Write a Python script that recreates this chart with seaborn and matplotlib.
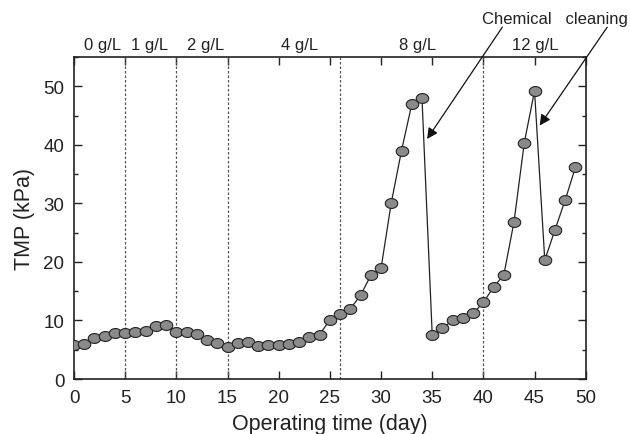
import numpy as np
import pandas as pd
import matplotlib
matplotlib.use("Agg")
import matplotlib.pyplot as plt
from matplotlib.ticker import MultipleLocator
import seaborn as sns

# TMP readings, one per day
days = list(range(50))
tmp = [5.8, 5.9, 7.0, 7.4, 7.9, 7.8, 8.0, 8.2, 9.0, 9.2,
       8.1, 8.0, 7.7, 6.6, 6.2, 5.4, 6.2, 6.3, 5.7, 5.8,
       5.8, 6.0, 6.4, 7.1, 7.6, 10.1, 11.1, 12.0, 14.3, 17.7,
       18.9, 30.1, 39.0, 46.9, 48.0, 7.6, 8.7, 10.0, 10.5, 11.2,
       13.1, 15.7, 17.8, 26.9, 40.4, 49.2, 20.3, 25.5, 30.6, 36.2]

# dosage phases: boundaries and labels
phase_bounds = [5, 10, 15, 26, 40]
phase_labels = ["0 g/L", "1 g/L", "2 g/L", "4 g/L", "8 g/L", "12 g/L"]
phase_label_x = [2.8, 7.35, 12.9, 22.0, 33.6, 45.1]

# chemical cleaning arrows (tail -> head)
arrow_tails = [(41.85, 60.1), (52.1, 60.1)]
arrow_heads = [(34.5, 41.0), (45.5, 43.3)]

df = pd.DataFrame({"day": days, "tmp": tmp})

sns.set_style("ticks")
plt.rcParams["font.family"] = ["Liberation Sans", "DejaVu Sans"]

fig = plt.figure(figsize=(6.3, 4.35), dpi=100)
ax = fig.add_axes([0.1175, 0.1264, 0.8122, 0.7402])

# slightly flattened ellipse marker
t = np.linspace(0, 2 * np.pi, 40)
ellipse = list(zip(1.2 * np.cos(t), 0.95 * np.sin(t)))

for xb in phase_bounds:
    ax.axvline(xb, color="#555555", lw=0.9, ls=(0, (2, 1.6)), zorder=1)

sns.lineplot(data=df, x="day", y="tmp", ax=ax, color="#222222", lw=0.9,
             marker=ellipse, markersize=9, markerfacecolor="#8a8a8a",
             markeredgecolor="#222222", markeredgewidth=0.8, zorder=3)

ax.set_xlim(0, 50)
ax.set_ylim(0, 55)
ax.xaxis.set_major_locator(MultipleLocator(5))
ax.yaxis.set_major_locator(MultipleLocator(10))
ax.yaxis.set_minor_locator(MultipleLocator(5))
ax.tick_params(which="both", direction="in", top=True, right=True,
               labelsize=13.5, colors="#222222", width=1.0)
ax.tick_params(which="major", length=5.5, pad=7)
ax.tick_params(which="minor", length=3)
for s in ax.spines.values():
    s.set_linewidth(1.2)
    s.set_color("#222222")

ax.set_xlabel("Operating time (day)", fontsize=15.5, labelpad=5, color="#222222")
ax.set_ylabel("TMP (kPa)", fontsize=15.5, labelpad=6, color="#222222")

for lx, lab in zip(phase_label_x, phase_labels):
    ax.text(lx, 57.2, lab, ha="center", va="center", fontsize=12,
            color="#222222", clip_on=False)

ax.text(47.0, 61.6, "Chemical   cleaning", ha="center", va="center",
        fontsize=12, color="#222222", clip_on=False)

for tail, head in zip(arrow_tails, arrow_heads):
    ax.annotate("", xy=head, xytext=tail, annotation_clip=False,
                arrowprops=dict(arrowstyle="-|>", color="#111111", lw=0.9,
                                mutation_scale=16, shrinkA=0, shrinkB=0))

fig.savefig("out.png", dpi=100)
